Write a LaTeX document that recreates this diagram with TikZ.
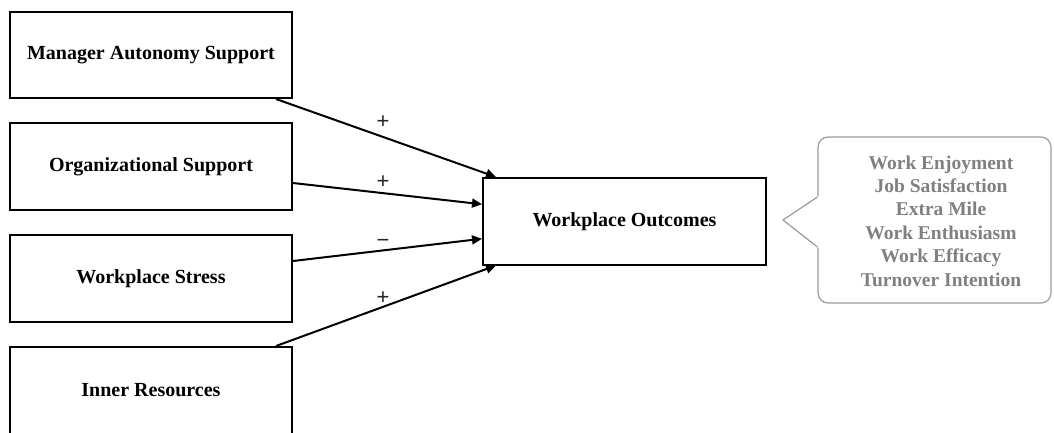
\documentclass[tikz,border=0pt]{standalone}
\usepackage{fontspec}
\setmainfont{Liberation Serif}
\newfontfamily\signfont{Liberation Sans}
\usetikzlibrary{arrows.meta}
\definecolor{calltext}{RGB}{128,128,128}
\definecolor{callline}{RGB}{155,155,155}
\begin{document}
\begin{tikzpicture}[x=1pt,y=-1pt,
  box/.style={draw=black, line width=2pt, minimum width=282pt, minimum height=86pt, inner sep=0pt,
    font=\fontsize{20}{24}\selectfont\bfseries},
  link/.style={line width=2pt, -{Triangle[length=10pt,width=9pt]}},
  sign/.style={font=\signfont\fontsize{22}{22}\selectfont, inner sep=0pt, text=black!85},
  bubble/.style={draw=callline, line width=1.2pt, rounded corners=10pt, minimum width=233pt, minimum height=166pt, inner sep=0pt},
  bubbletext/.style={align=center, text=calltext, inner sep=0pt,
    font=\fontsize{19.5}{23.4}\selectfont\bfseries}]
\useasboundingbox (0,0) rectangle (1054,432);

\node[box] (m) at (151,55) {Manager Autonomy Support};
\node[box, minimum height=87pt] (os) at (151,166.5) {Organizational Support};
\node[box, minimum height=87pt] (ws) at (151,278.5) {Workplace Stress};
\node[box, minimum height=87pt] (ir) at (151,390.5) {Inner Resources};
\node[box, minimum width=283pt, minimum height=86.5pt] (o) at (624.5,221.25) {Workplace Outcomes};

\draw[link] ([xshift=-17pt]m.south east) -- ([xshift=14pt]o.north west);
\draw[link] ([yshift=-16.5pt]os.east) -- ([yshift=17pt]o.west);
\draw[link] ([yshift=17.5pt]ws.east) -- ([yshift=-17.5pt]o.west);
\draw[link] ([xshift=-17pt]ir.north east) -- ([xshift=14pt]o.south west);

\node[sign] (s1) at (383,122) {+};
\node[sign] (s2) at (383,182) {+};
\node[sign] (s3) at (383,243) {−};
\node[sign] (s4) at (383,298) {+};

\node[bubble] (c) at (934.5,220) {};
\fill[white] (818.8,196) -- (783,220) -- (818.8,248) -- cycle;
\draw[draw=callline, line width=1.2pt, line join=miter] ([yshift=23pt]c.west) -- (783,220) -- ([yshift=-27pt]c.west);
\node[bubbletext] (ct) at (941,221) {Work Enjoyment\\Job Satisfaction\\Extra Mile\\Work Enthusiasm\\Work Efficacy\\Turnover Intention};
\end{tikzpicture}
\end{document}
